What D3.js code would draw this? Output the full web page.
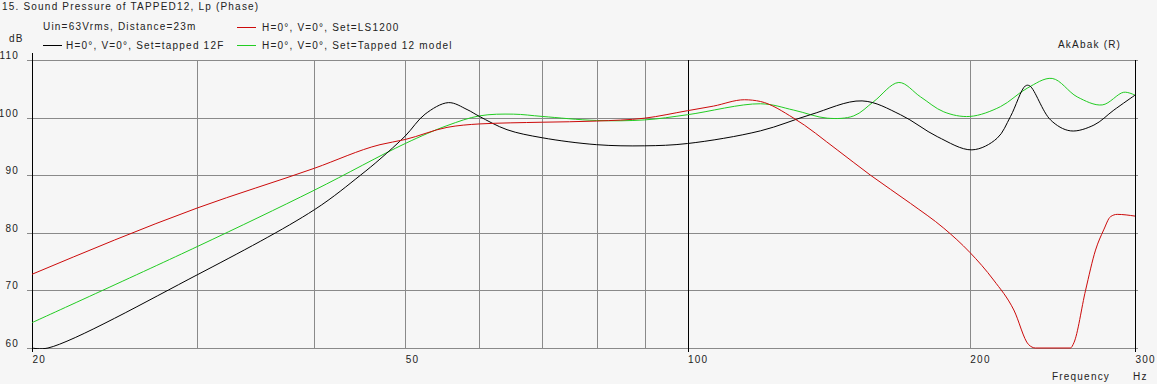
<!DOCTYPE html>
<html>
<head>
<meta charset="utf-8">
<script src="https://cdn.jsdelivr.net/npm/d3@7"></script>
<style>
  body { margin: 0; background: #f6f6f6; }
  svg { display: block; font-family: Arial, "Liberation Sans", sans-serif; font-size: 10px; letter-spacing: 1.2px; }
  .grid line { stroke: #8a8a8a; shape-rendering: crispEdges; }
  .grid path, .labels path { display: none; }
  .frame line { stroke: #000; shape-rendering: crispEdges; }
  .frame path { display: none; }
  .labels text { fill: #222; font-size: 10px; }
  .curve { fill: none; stroke-width: 1; }
  .legend line { shape-rendering: crispEdges; }
</style>
</head>
<body>
<svg width="1157" height="384"></svg>
<script>
// tick values
const freqLabels = [20, 50, 100, 200, 300];
const freqGrid = [30, 40, 50, 60, 70, 80, 90, 200];
const dbTicks = [60, 70, 80, 90, 100, 110];

// H=0°, V=0°, Set=LS1200
const redFreq = [20, 30, 40, 47, 50, 55.4, 60, 70, 80, 90, 100, 106.6, 115, 119.6, 129.8, 144.4, 156.7, 172.9, 187.6, 200, 212, 222.8, 231, 235, 256, 258.2, 265.7, 272.3, 277.8, 282.5, 287.2, 300];
const redDb   = [72.8, 84.3, 91.2, 95.3, 96.2, 98.3, 98.9, 99.2, 99.4, 99.9, 101.2, 102.0, 103.1, 102.8, 99.9, 94.4, 90.0, 85.1, 80.8, 76.6, 71.8, 66.6, 60.6, 60, 60, 60.9, 70, 77, 80.5, 82.8, 83.2, 82.9];

// H=0°, V=0°, Set=tapped 12F
const blackFreq = [20, 20.8, 30, 40, 44.8, 47, 50, 52.5, 55.6, 58.2, 60, 64.2, 70, 80, 90, 100, 119.6, 135.2, 153.5, 168.7, 184.6, 201, 213.8, 221, 229.2, 231.7, 243.8, 256, 271.2, 284.8, 300];
const blackDb   = [60, 60, 72.7, 84.0, 90.0, 92.8, 96.8, 100.6, 102.6, 101.4, 100.2, 97.9, 96.5, 95.3, 95.1, 95.5, 97.7, 100.5, 102.9, 100.5, 96.7, 94.4, 96.4, 100.2, 105.5, 105.5, 99.6, 97.7, 98.7, 101.3, 103.9];

// H=0°, V=0°, Set=Tapped 12 model
const greenFreq = [20, 30, 40, 50, 55.4, 60, 65.2, 70, 80, 90, 100, 119.6, 129.8, 140.9, 150.4, 158, 168, 177.2, 187.6, 200, 215.6, 230.2, 244.8, 260.3, 276.8, 291.8, 300];
const greenDb   = [64.4, 77.6, 87.4, 95.5, 98.6, 100.3, 100.6, 100.2, 99.5, 99.6, 100.5, 102.4, 101.3, 99.9, 100.3, 102.8, 106.1, 103.6, 101.0, 100.2, 101.9, 105.1, 106.8, 103.6, 102.2, 104.4, 103.9];

const seriesNames = ["H=0°, V=0°, Set=tapped 12F", "H=0°, V=0°, Set=LS1200", "H=0°, V=0°, Set=Tapped 12 model"];
const seriesColours = ["#000000", "#cc0a0a", "#22cc22"];

const svg = d3.select("svg");

const xScale = d3.scaleLog().domain([20, 300]).range([32, 1135]),
    yScale = d3.scaleLinear().domain([60, 110]).range([348, 60]);

const zip = (fs, ds) => fs.map((f, i) => ({f: f, db: ds[i]}));
const series = [
  {name: seriesNames[0], colour: seriesColours[0], values: zip(blackFreq, blackDb), curve: d3.curveCatmullRom.alpha(0.5)},
  {name: seriesNames[1], colour: seriesColours[1], values: zip(redFreq, redDb), curve: d3.curveMonotoneX},
  {name: seriesNames[2], colour: seriesColours[2], values: zip(greenFreq, greenDb), curve: d3.curveCatmullRom.alpha(0.5)}
];

// Clip curves to the plot area
svg.append("clipPath")
    .attr("id", "plot")
  .append("rect")
    .attr("x", xScale(20))
    .attr("y", yScale(110))
    .attr("width", xScale(300) - xScale(20))
    .attr("height", yScale(60) - yScale(110) + 1);

// Horizontal grid
svg.append("g")
    .attr("class", "grid")
    .attr("transform", "translate(27,0)")
    .call(d3.axisLeft(yScale).tickValues(dbTicks).tickSize(-(1138 - 27)).tickFormat(""));

// Vertical grid
svg.append("g")
    .attr("class", "grid")
    .attr("transform", "translate(0,348)")
    .call(d3.axisBottom(xScale).tickValues(freqGrid).tickSize(-(348 - 60)).tickFormat(""));

// Black frame lines at 20, 100 and 300 Hz
svg.append("g")
    .attr("class", "frame")
    .attr("transform", "translate(0,352)")
    .call(d3.axisBottom(xScale).tickValues([100, 300]).tickSize(-(352 - 60)).tickFormat(""));
svg.append("g")
    .attr("class", "frame")
    .attr("transform", "translate(0,352)")
    .call(d3.axisBottom(xScale).tickValues([20]).tickSize(-(352 - 53)).tickFormat(""));

// Y labels, sitting just above their grid lines
svg.append("g")
    .attr("class", "labels")
    .attr("transform", "translate(19,0)")
    .call(d3.axisLeft(yScale).tickValues(dbTicks).tickSize(0).tickPadding(0))
  .selectAll("text")
    .attr("dy", "-0.15em");

// X labels, left aligned at their ticks
svg.append("g")
    .attr("class", "labels")
    .attr("transform", "translate(0,356)")
    .call(d3.axisBottom(xScale).tickValues(freqLabels).tickSize(0).tickPadding(0).tickFormat(d3.format("d")))
  .selectAll("text")
    .attr("text-anchor", "start")
    .attr("dy", "0.71em");

// Curves
svg.append("g")
    .attr("clip-path", "url(#plot)")
  .selectAll(".curve")
  .data([series[2], series[0], series[1]])
  .enter().append("path")
    .attr("class", "curve")
    .attr("d", function(d) {
      return d3.line()
          .x(function(p) { return xScale(p.f); })
          .y(function(p) { return Math.min(yScale(p.db), yScale(60)); })
          .curve(d.curve)(d.values);
    })
    .style("stroke", function(d) { return d.colour; });

// Texts
const txt = function(x, y, s, anchor) {
  svg.append("text").attr("x", x).attr("y", y).attr("fill", "#222")
     .attr("text-anchor", anchor || "start").text(s);
};
txt(2, 10, "15. Sound Pressure of TAPPED12, Lp (Phase)");
txt(43, 30, "Uin=63Vrms, Distance=23m");
txt(9, 42, "dB");
txt(1058, 48, "AkAbak (R)");
txt(1052, 380, "Frequency");
txt(1133, 380, "Hz");

// Legend
const legendPos = [[43, 45], [237, 27], [237, 45]];
const legend = svg.selectAll(".legend")
  .data(series)
  .enter().append("g")
    .attr("class", "legend")
    .attr("transform", function(d, i) { return "translate(" + legendPos[i][0] + "," + legendPos[i][1] + ")"; });
legend.append("line")
    .attr("x1", 0).attr("x2", 19).attr("y1", 0.5).attr("y2", 0.5)
    .style("stroke", function(d) { return d.colour; });
legend.append("text")
    .attr("x", function(d, i) { return i === 0 ? 23 : 25; })
    .attr("y", 4)
    .attr("fill", "#222")
    .text(function(d) { return d.name; });
</script>
</body>
</html>
